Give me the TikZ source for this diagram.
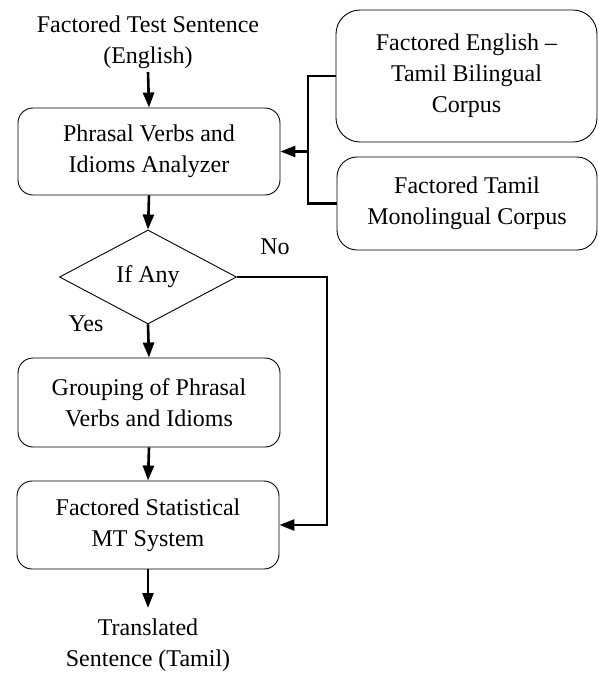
\documentclass[tikz,border=0pt]{standalone}
\usepackage{fontspec}
\setmainfont{Liberation Serif}
\usetikzlibrary{shapes.geometric,arrows.meta}
\begin{document}
\begin{tikzpicture}[x=1pt,y=-1pt,
  every node/.style={font=\fontsize{24}{31}\selectfont, align=center, inner sep=0pt},
  procbox/.style={draw, line width=0.9pt, rounded corners=15pt},
  corpbox/.style={draw, line width=0.9pt, rounded corners=24pt},
  decbox/.style={draw, line width=0.9pt, diamond, minimum width=177pt, minimum height=94pt},
  flow/.style={line width=2.6pt, -{Triangle[length=15pt,width=11pt]}},
  link/.style={line width=2.6pt}
]
\useasboundingbox (0,0) rectangle (598,673);

\node (src) at (148,42) {Factored Test Sentence\\(English)};
\node[procbox, minimum width=262pt, minimum height=87pt] (b1) at (149,151.5) {Phrasal Verbs and\\Idioms Analyzer};
\node[decbox] (d) at (148,277) {If Any};
\node[procbox, minimum width=262pt, minimum height=89pt] (b2) at (149,402.5) {Grouping of Phrasal\\Verbs and Idioms};
\node[procbox, minimum width=262pt, minimum height=88pt] (b3) at (148,525) {Factored Statistical\\MT System};
\node (out) at (148,645) {Translated\\Sentence (Tamil)};

\node[corpbox, minimum width=261pt, minimum height=132pt] (c1) at (466.5,76) {Factored English --\\Tamil Bilingual\\Corpus};
\node[corpbox, rounded corners=20pt, minimum width=260pt, minimum height=93pt] (c2) at (467,203.5) {Factored Tamil\\Monolingual Corpus};

\node (no) at (275,247) {No};
\node (yes) at (86,324) {Yes};

\coordinate (j) at (308,151.5);
\coordinate (k) at (327,277);
\coordinate (topin) at (148,72);
\coordinate (outtop) at (148,608);

\draw[flow] (topin) -- (b1.north);
\draw[flow] (b1.south) -- (d.north);
\draw[flow] (d.south) -- (b2.north);
\draw[flow] (b2.south) -- (b3.north);
\draw[flow] (b3.south) -- (outtop);
\draw[link] (c1.west) -- (c1.west -| j) -- (c2.west -| j) -- (c2.west);
\draw[flow] (j) -- (b1.east);
\draw[flow] (d.east) -- (k) |- (b3.east);
\end{tikzpicture}
\end{document}
